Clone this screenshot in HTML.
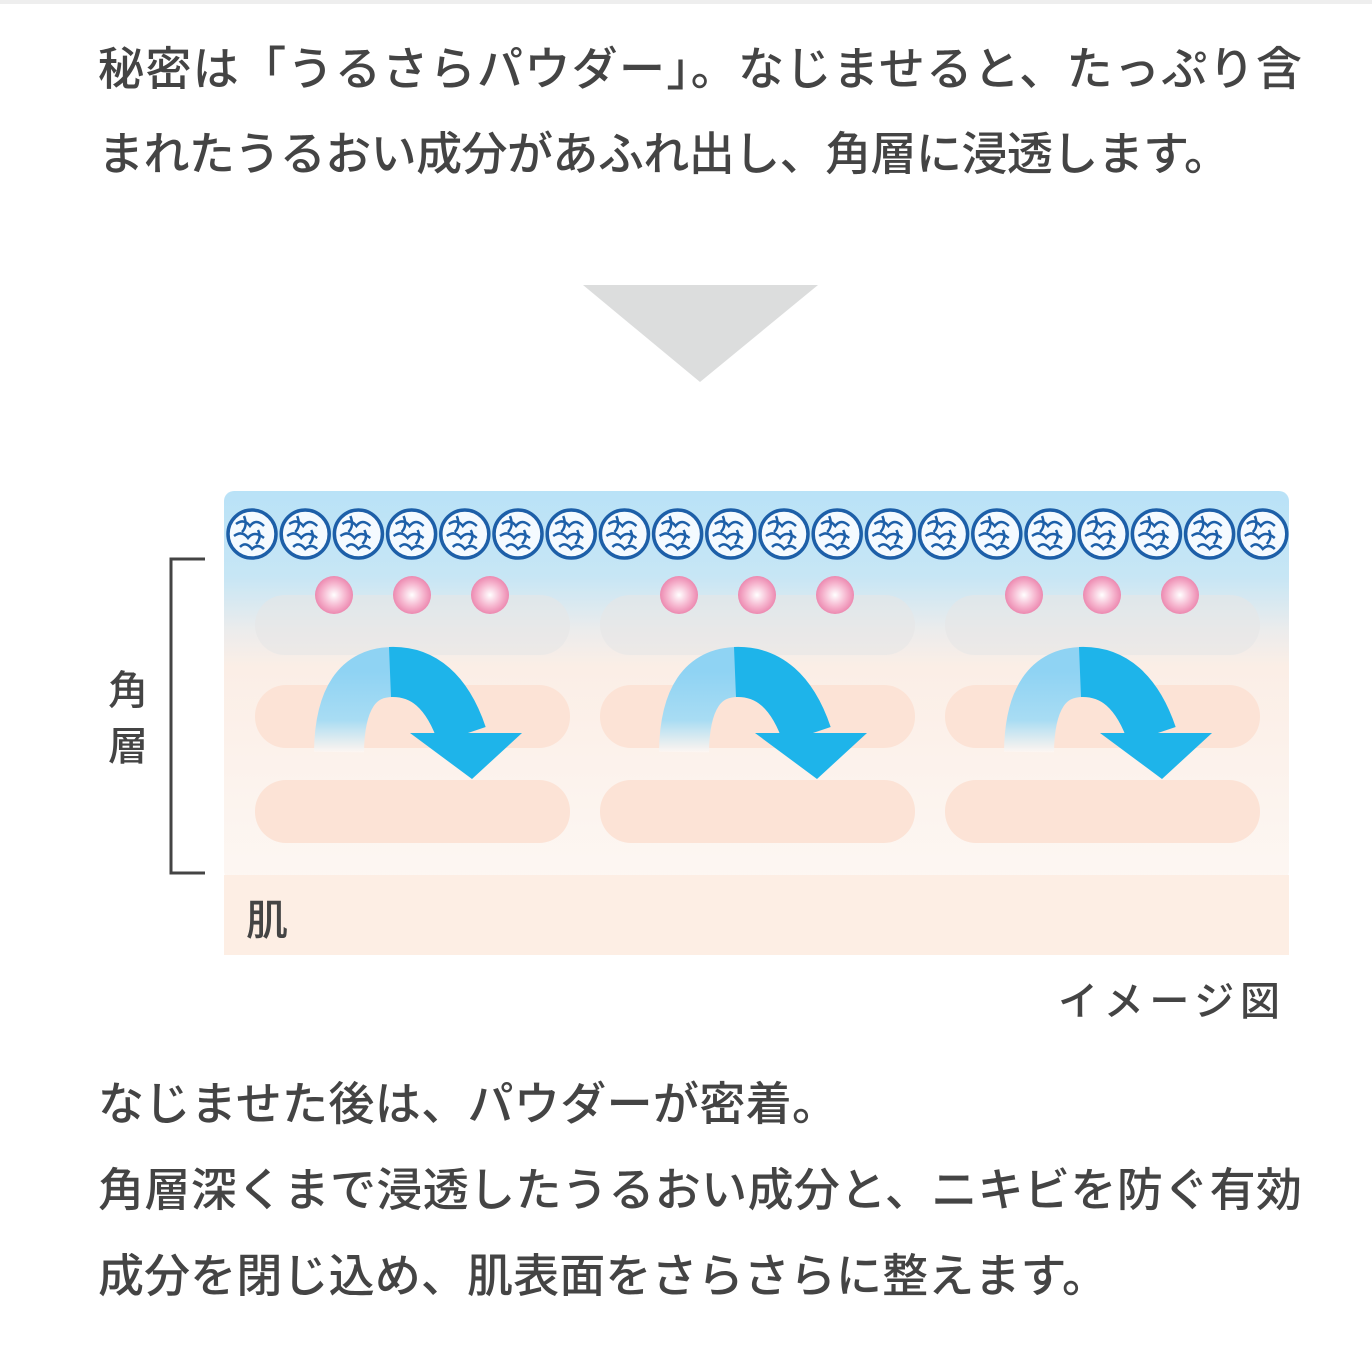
<!DOCTYPE html>
<html><head><meta charset="utf-8"><style>
html,body{margin:0;padding:0;background:#fff;width:1372px;height:1356px;overflow:hidden}
svg{display:block}
text{font-family:"Liberation Sans","Noto Sans CJK JP",sans-serif;fill:#444;font-weight:500}
</style></head><body>
<svg width="1372" height="1356" viewBox="0 0 1372 1356" xmlns="http://www.w3.org/2000/svg">
<defs>
<linearGradient id="bg" x1="0" y1="0" x2="0" y2="1">
<stop offset="0" stop-color="#b9e2f7"/>
<stop offset="0.22" stop-color="#c7e6f5"/>
<stop offset="0.36" stop-color="#ececec"/>
<stop offset="0.45" stop-color="#fbeee6"/>
<stop offset="1" stop-color="#fdf7f3"/>
</linearGradient>
<radialGradient id="pk" cx="0.5" cy="0.5" r="0.5">
<stop offset="0" stop-color="#fff"/>
<stop offset="0.6" stop-color="#f6b6cf"/>
<stop offset="1" stop-color="#ec89b0"/>
</radialGradient>
<linearGradient id="lf" x1="0" y1="0" x2="0" y2="1">
<stop offset="0" stop-color="#8fd3f3"/>
<stop offset="0.6" stop-color="#a8dcf3"/>
<stop offset="1" stop-color="#fdf6f2" stop-opacity="0.9"/>
</linearGradient>
</defs>
<rect x="0" y="0" width="1372" height="4" fill="#eeeeee"/>
<text x="98" y="85" font-size="46" textLength="1204">秘密は「うるさらパウダー」。なじませると、たっぷり含</text>
<text x="98" y="170" font-size="46" textLength="1132">まれたうるおい成分があふれ出し、角層に浸透します。</text>
<polygon points="583,285 818,285 700,382" fill="#dcdddd"/>
<rect x="224" y="491" width="1065" height="390" rx="10" fill="url(#bg)"/>
<rect x="224" y="875" width="1065" height="80" fill="#fdeee4"/>
<g id="grp">
<rect x="255" y="595" width="315" height="60" rx="30" fill="#e6e6e6" opacity="0.6"/>
<rect x="255" y="685" width="315" height="63" rx="31" fill="#fce3d6"/>
<rect x="255" y="780" width="315" height="63" rx="31" fill="#fce3d6"/>
<circle cx="334" cy="595" r="19" fill="url(#pk)"/>
<circle cx="412" cy="595" r="19" fill="url(#pk)"/>
<circle cx="490" cy="595" r="19" fill="url(#pk)"/>
<path d="M339 752 Q340 672 393 672" fill="none" stroke="url(#lf)" stroke-width="50"/>
<path d="M390 672 Q440 670 462 735" fill="none" stroke="#1eb4ea" stroke-width="50"/>
<polygon points="410,733 522,733 472,779" fill="#1eb4ea"/>
</g>
<use href="#grp" x="345"/>
<use href="#grp" x="690"/>
<g fill="#f4faff" stroke="#1d5fa8" stroke-width="3.5">
<g id="c"><circle cx="252" cy="534" r="24"/><path d="M236 524 q8 -6 14 2 q6 -8 14 0 M234 536 q8 -6 14 2 q6 -8 16 0 M240 547 q6 -6 12 2 q6 -6 12 0 M244 516 q4 10 -2 16 M258 530 q4 8 -2 14" fill="none" stroke-width="2.5"/></g>
<use href="#c" x="53.2"/><use href="#c" x="106.4"/><use href="#c" x="159.6"/><use href="#c" x="212.8"/>
<use href="#c" x="266"/><use href="#c" x="319.2"/><use href="#c" x="372.4"/><use href="#c" x="425.6"/><use href="#c" x="478.8"/>
<use href="#c" x="532"/><use href="#c" x="585.2"/><use href="#c" x="638.4"/><use href="#c" x="691.6"/><use href="#c" x="744.8"/>
<use href="#c" x="798"/><use href="#c" x="851.2"/><use href="#c" x="904.4"/><use href="#c" x="957.6"/><use href="#c" x="1010.8"/>
</g>
<path d="M205 559 H171 V873 H205" fill="none" stroke="#444" stroke-width="3"/>
<text x="108" y="704" font-size="40">角</text>
<text x="108" y="760" font-size="40">層</text>
<text x="246" y="935" font-size="42">肌</text>
<text x="1058" y="1015" font-size="40" textLength="222" fill="#555">イメージ図</text>
<text x="98" y="1120" font-size="46" textLength="740">なじませた後は、パウダーが密着。</text>
<text x="98" y="1206" font-size="46" textLength="1204">角層深くまで浸透したうるおい成分と、ニキビを防ぐ有効</text>
<text x="98" y="1292" font-size="46" textLength="1010">成分を閉じ込め、肌表面をさらさらに整えます。</text>
</svg>
</body></html>
